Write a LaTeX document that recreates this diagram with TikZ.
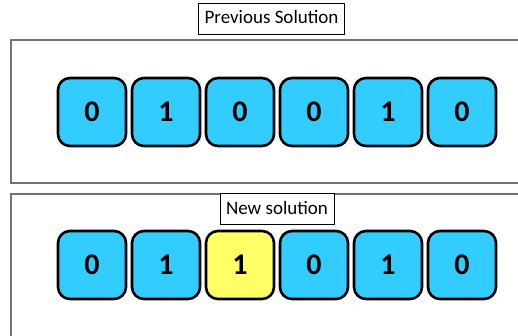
\documentclass[tikz,border=0pt]{standalone}
\usepackage{fontspec}
\setmainfont{Carlito}
\begin{document}
\begin{tikzpicture}[x=1pt,y=1pt,
  frame/.style={draw=black!55,line width=1.2pt},
  lbl/.style={draw=black,fill=white,line width=0.8pt,font=\fontsize{19}{22}\selectfont,inner xsep=6pt,minimum height=31pt,text height=14pt,text depth=4pt},
  bit/.style={draw=black,line width=2.6pt,rounded corners=12pt,minimum width=68pt,minimum height=68pt,fill=cellblue,font=\fontsize{30}{36}\selectfont\bfseries},
  flip/.style={bit,fill=cellyellow}]
\definecolor{cellblue}{HTML}{33CCFF}
\definecolor{cellyellow}{HTML}{FFFF66}
\clip (0,0) rectangle (518,-335);
\path[use as bounding box] (0,0) rectangle (518,-335);
\draw[frame] (11,-40) rectangle (535,-183);
\draw[frame] (11,-194) rectangle (535,-345);
\node[lbl] (prev) at (271.5,-18.5) {Previous Solution};
\node[lbl] (new) at (277,-209) {New solution};
\foreach \v [count=\i] in {0,1,0,0,1,0} {
  \node[bit] (a\i) at ({18+74*\i},-112) {\v};
}
\node[bit] (b1) at (92,-265) {0};
\node[bit] (b2) at (166,-265) {1};
\node[flip] (b3) at (240,-265) {1};
\node[bit] (b4) at (314,-265) {0};
\node[bit] (b5) at (388,-265) {1};
\node[bit] (b6) at (462,-265) {0};
\end{tikzpicture}
\end{document}
